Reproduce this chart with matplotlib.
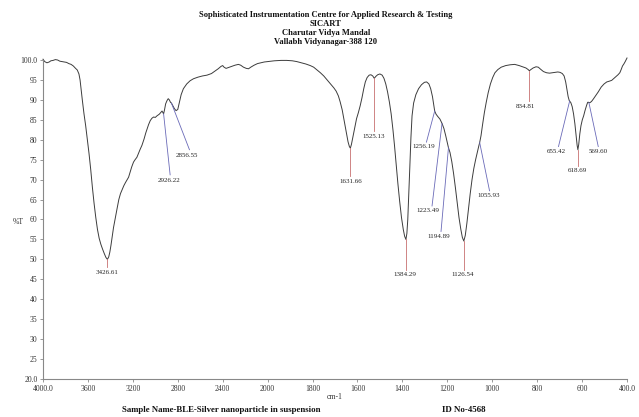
import numpy as np
import matplotlib
matplotlib.use("Agg")
import matplotlib.pyplot as plt

plt.rcParams['font.family'] = ['Liberation Serif', 'DejaVu Serif']

# spectrum (wavenumber cm-1, %T)
wavenumber = [4000, 3985, 3965, 3945, 3930, 3910, 3890, 3870, 3850, 3830, 3810, 3790, 3770, 3750,
              3730, 3710, 3695, 3680, 3670, 3660, 3650, 3635, 3620, 3605, 3590, 3575, 3560, 3545,
              3530, 3515, 3500, 3485, 3470, 3455, 3440, 3426.61, 3415, 3405, 3395, 3385, 3372, 3357,
              3340, 3325, 3310, 3295, 3280, 3265, 3250, 3238, 3225, 3210, 3194, 3180, 3164, 3150,
              3135, 3119, 3100, 3085, 3074, 3060, 3045, 3030, 3015, 3000, 2985, 2965, 2950, 2940,
              2932, 2926.22, 2918, 2908, 2896, 2885, 2875, 2865, 2856.55, 2845, 2830, 2815, 2800,
              2785, 2770, 2750, 2720, 2690, 2660, 2620, 2580, 2540, 2500, 2470, 2440, 2415, 2400,
              2388, 2370, 2350, 2320, 2290, 2260, 2240, 2215, 2190, 2170, 2150, 2120, 2090, 2060,
              2030, 2000, 1970, 1940, 1915, 1890, 1870, 1850, 1830, 1810, 1795, 1780, 1765, 1750,
              1735, 1720, 1705, 1695, 1685, 1677, 1668, 1660, 1650, 1642, 1636, 1631.66, 1627, 1620,
              1612, 1604, 1596, 1588, 1580, 1572, 1565, 1557, 1548, 1540, 1532, 1525.13, 1518, 1510,
              1500, 1490, 1482, 1474, 1466, 1458, 1450, 1442, 1435, 1428, 1420, 1412, 1404, 1396,
              1390, 1384.29, 1380, 1376, 1372, 1367, 1362, 1357, 1350, 1340, 1328, 1315, 1302, 1292,
              1282, 1274, 1266, 1260, 1256.19, 1250, 1242, 1233, 1223.49, 1215, 1207, 1200, 1194.89,
              1188, 1180, 1172, 1164, 1156, 1148, 1140, 1133, 1126.54, 1120, 1113, 1106, 1098, 1090,
              1082, 1074, 1066, 1060, 1055.93, 1050, 1043, 1035, 1027, 1018, 1008, 998, 988, 975,
              960, 940, 920, 900, 880, 865, 850, 840, 834.81, 828, 818, 805, 795, 785, 772, 758,
              745, 732, 720, 708, 698, 688, 680, 673, 667, 662, 657, 655.42, 650, 644, 638, 632,
              627, 622, 618.69, 615, 610, 605, 599, 593, 587, 580, 575, 571, 569.6, 565, 558, 550,
              540, 528, 515, 502, 490, 478, 468, 460, 450, 440, 432, 426, 420, 414, 408, 402, 400]
transmittance = [100.2, 99.6, 99.3, 99.5, 99.8, 99.9, 100.1, 100.0, 99.7, 99.6, 99.5, 99.4, 99.1, 98.9,
                 98.5, 97.9, 97.5, 96.5, 95.0, 92.5, 90.0, 86.5, 83.5, 80.0, 76.5, 72.5, 68.0, 64.0,
                 60.5, 57.5, 55.3, 53.8, 52.6, 51.5, 50.5, 50.0, 50.6, 51.8, 53.5, 55.5, 58.0, 60.3,
                 62.8, 65.0, 66.5, 67.5, 68.5, 69.3, 70.0, 70.6, 71.8, 73.2, 74.4, 75.0, 75.6, 76.6,
                 77.6, 78.6, 80.2, 81.7, 82.6, 83.8, 84.8, 85.4, 85.7, 85.6, 86.0, 86.4, 86.9, 87.2,
                 86.8, 86.5, 87.5, 89.0, 89.8, 90.3, 90.0, 89.4, 89.2, 88.6, 87.8, 87.3, 87.6,
                 89.5, 91.3, 92.8, 94.0, 94.8, 95.3, 95.7, 96.0, 96.2, 96.6, 97.2, 97.8, 98.4, 98.6,
                 98.2, 97.9, 98.1, 98.4, 98.7, 98.9, 98.7, 98.2, 97.9, 97.8, 98.2, 98.7, 99.1, 99.3,
                 99.5, 99.6, 99.8, 99.9, 99.9, 99.8, 99.6, 99.3, 99.0, 98.6, 98.2, 97.5, 96.8, 96.0,
                 95.0, 94.0, 93.0, 92.2, 91.0, 89.5, 87.5, 85.0, 82.0, 79.5, 78.3, 77.9, 78.8, 80.8,
                 83.2, 85.3, 86.8, 88.5, 90.5, 92.8, 94.5, 95.6, 96.2, 96.3, 96.0, 95.4, 95.9, 96.3,
                 96.5, 96.2, 95.4, 94.0, 92.0, 89.5, 86.5, 82.5, 78.5, 74.0, 69.0, 64.5, 60.5, 57.5,
                 55.8, 55.0, 56.5, 60.0, 65.5, 73.0, 80.5, 86.0, 89.2, 91.3, 92.8, 93.8, 94.4, 94.5,
                 94.0, 92.8, 90.8, 88.5, 87.2, 86.4, 85.8, 85.2, 84.1, 82.8, 81.0, 79.3, 78.0,
                 76.8, 74.5, 71.5, 68.0, 64.2, 60.5, 57.6, 55.5, 54.6, 56.0, 59.0, 62.5, 66.5, 70.0,
                 72.8, 75.0, 77.0, 78.4, 79.3, 81.0, 83.8, 86.8, 89.3, 91.8, 94.0, 95.6, 96.8, 97.6,
                 98.2, 98.6, 98.8, 98.9, 98.6, 98.3, 98.0, 97.6, 97.3, 97.6, 98.0, 98.3, 98.2, 97.7, 97.1, 96.8,
                 96.7, 96.8, 96.9, 97.0, 96.9, 96.6, 96.0, 94.5, 92.5, 90.8, 89.8, 89.7, 89.3, 88.3, 86.5, 84.0,
                 81.3, 78.6, 77.5, 78.8, 81.5, 83.5, 85.0, 86.0, 87.3, 88.6, 89.4, 89.4, 89.3, 89.3, 89.6, 90.2,
                 91.0, 92.0, 93.2, 94.0, 94.5, 94.7, 94.9, 95.3, 95.8, 96.3, 96.8, 97.6, 98.5, 99.0, 99.6, 100.3, 100.5]

# peak labels: text, peak position, %T at peak, label position (wn, %T), line colour
peak_names = ["3426.61", "2926.22", "2856.55", "1631.66", "1525.13", "1384.29", "1256.19", "1223.49",
              "1194.89", "1126.54", "1055.93", "834.81", "655.42", "618.69", "569.60"]
peak_wn = [3426.61, 2926.22, 2856.55, 1631.66, 1525.13, 1384.29, 1256.19, 1223.49,
           1194.89, 1126.54, 1055.93, 834.81, 655.42, 618.69, 569.60]
peak_t = [50.0, 86.5, 89.2, 77.9, 95.4, 55.0, 87.2, 84.1, 78.0, 54.6, 79.3, 97.3, 89.7, 77.5, 89.3]
label_wn = [3430, 2875, 2717, 1631.66, 1528, 1390, 1305, 1287, 1236, 1130, 1016, 850, 716, 619, 530]
label_t = [46.8, 69.8, 76.1, 69.6, 80.8, 46.1, 78.3, 62.3, 55.8, 46.1, 66.0, 88.3, 77.1, 72.3, 77.1]
line_end_wn = [3426.61, 2868, 2696, 1631.66, 1525.13, 1384.29, 1293, 1268, 1228, 1126.54, 1012, 834.81, 705, 618.69, 528]
line_end_t = [48.0, 71.2, 77.5, 70.9, 82.2, 47.4, 79.4, 63.4, 57.0, 47.4, 67.2, 89.6, 78.3, 73.5, 78.3]
line_colors = ["#c87070", "#6a6ab8", "#6a6ab8", "#c87070", "#c87070", "#c87070", "#6a6ab8", "#6a6ab8",
               "#6a6ab8", "#c87070", "#6a6ab8", "#c87070", "#6a6ab8", "#c87070", "#6a6ab8"]

xtick_vals = [4000, 3600, 3200, 2800, 2400, 2000, 1800, 1600, 1400, 1200, 1000, 800, 600, 400]
xtick_labels = ["4000.0", "3600", "3200", "2800", "2400", "2000", "1800", "1600", "1400",
                "1200", "1000", "800", "600", "400.0"]
ytick_vals = list(range(20, 101, 5))
ytick_labels = ["20.0"] + [str(v) for v in range(25, 100, 5)] + ["100.0"]

title_lines = ["Sophisticated Instrumentation Centre for Applied Research & Testing",
               "SICART", "Charutar Vidya Mandal", "Vallabh Vidyanagar-388 120"]


# the instrument doubles the scale below 2000 cm-1 (increasing map, axis is then reversed)
def fwd(w):
    w = np.asarray(w, dtype=float)
    return np.where(w >= 2000, w - 4000, 2 * (w - 2000) - 2000)


def inv(u):
    u = np.asarray(u, dtype=float)
    return np.where(u >= -2000, u + 4000, 2000 + (u + 2000) / 2)


fig = plt.figure(figsize=(6.39, 4.17), dpi=100)
ax = fig.add_axes([43 / 639, 38 / 417, 584 / 639, 319 / 417])
ax.set_xscale('function', functions=(fwd, inv))
ax.set_xlim(4000, 400)
ax.set_ylim(20, 100)

ax.plot(wavenumber, transmittance, color="#3c3c3c", lw=0.7, clip_on=False)

for name, pw, pt, lw_, lt, ew, et, c in zip(peak_names, peak_wn, peak_t, label_wn, label_t,
                                          line_end_wn, line_end_t, line_colors):
    ax.plot([pw, ew], [pt, et], color=c, lw=0.6)
    ax.text(lw_, lt, name, fontsize=5, ha='center', va='center', color="#222222")

ax.set_xticks(xtick_vals)
ax.set_xticklabels(xtick_labels)
ax.set_yticks(ytick_vals)
ax.set_yticklabels(ytick_labels)
ax.tick_params(direction='out', length=2, width=0.6, color="#888888",
               labelsize=5.5, labelcolor="#333333", pad=2)
for s in ['top', 'right']:
    ax.spines[s].set_visible(False)
for s in ['left', 'bottom']:
    ax.spines[s].set_color("#888888")
    ax.spines[s].set_linewidth(0.8)

for i, line in enumerate(title_lines):
    fig.text(326 / 639, 1 - (15 + 9 * i) / 417, line, ha='center', va='center',
             fontsize=6.1, fontweight='bold', color="#111111")

fig.text(18 / 639, 1 - 222 / 417, "%T", ha='center', va='center', fontsize=5.5, color="#333333")
fig.text(335 / 639, 1 - 397 / 417, "cm-1", ha='center', va='center', fontsize=5.5, color="#333333")
fig.text(122 / 639, 1 - 410 / 417, "Sample Name-BLE-Silver nanoparticle in suspension",
         ha='left', va='center', fontsize=6.3, fontweight='bold', color="#111111")
fig.text(442 / 639, 1 - 410 / 417, "ID No-4568", ha='left', va='center',
         fontsize=6.4, fontweight='bold', color="#111111")

fig.savefig("out.png", dpi=100)
